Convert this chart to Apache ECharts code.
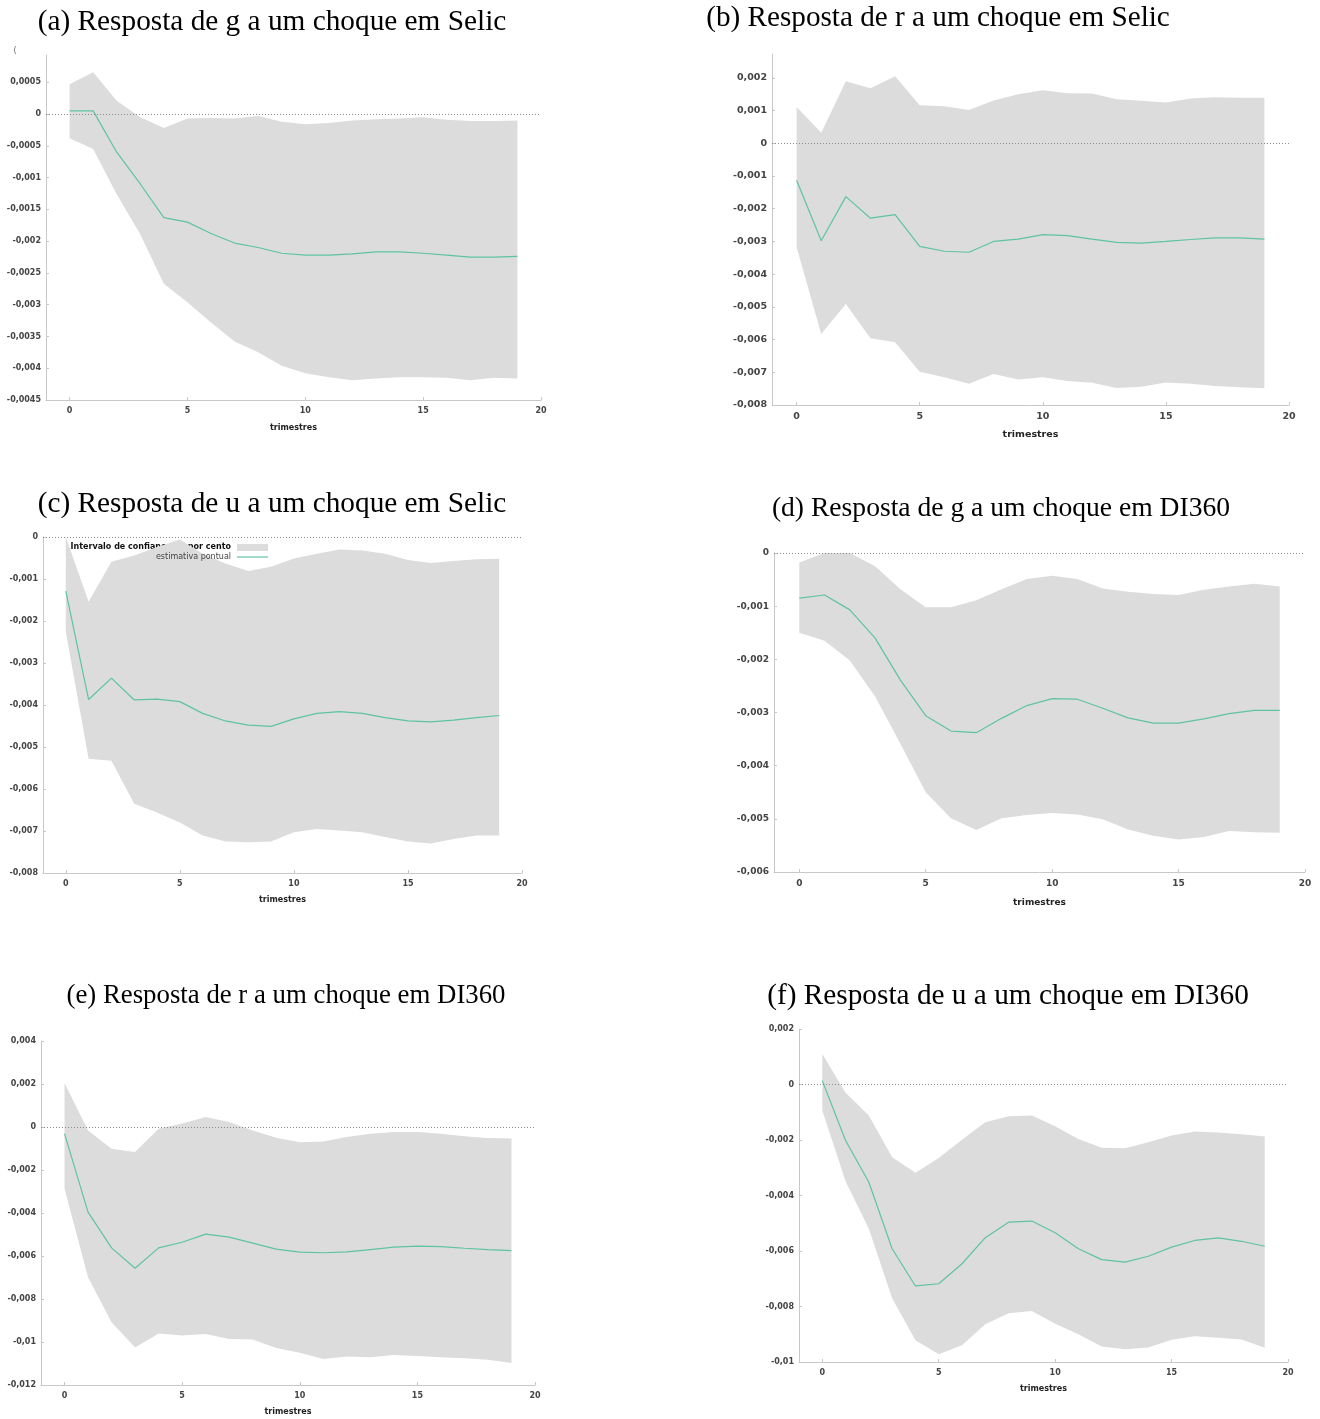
<!DOCTYPE html>
<html>
<head>
<meta charset="utf-8">
<script src="https://cdn.jsdelivr.net/npm/echarts@6/dist/echarts.min.js"></script>
<style>
html,body{margin:0;padding:0;background:#fff;}
#chart{width:1320px;height:1419px;}
</style>
</head>
<body>
<div id="chart"></div>
<script>
// Horizon (trimestres)
const horizon = [0,1,2,3,4,5,6,7,8,9,10,11,12,13,14,15,16,17,18,19];
const xTicks = [0,5,10,15,20];

const titles = [
  '(a) Resposta de g a um choque em Selic',
  '(b) Resposta de r a um choque em Selic',
  '(c) Resposta de u a um choque em Selic',
  '(d) Resposta de g a um choque em DI360',
  '(e) Resposta de r a um choque em DI360',
  '(f) Resposta de u a um choque em DI360'
];
const xName = 'trimestres';
const legendBand = 'Intervalo de confiança 95 por cento';
const legendLine = 'estimativa pontual';

// (a) g <- Selic
const aLine  = [0.00005,0.00005,-0.0006,-0.0011,-0.00163,-0.0017,-0.00188,-0.00203,-0.0021,-0.00219,-0.00222,-0.00222,-0.0022,-0.00217,-0.00217,-0.00219,-0.00222,-0.00225,-0.00225,-0.00224];
const aUpper = [0.00047,0.00066,0.00021,-0.00005,-0.00022,-0.00007,-0.00006,-0.00007,-0.00003,-0.00012,-0.00016,-0.00014,-0.0001,-0.00008,-0.00007,-0.00005,-0.00009,-0.00011,-0.00011,-0.0001];
const aLower = [-0.00038,-0.00055,-0.00126,-0.00189,-0.00267,-0.00296,-0.00328,-0.00358,-0.00375,-0.00396,-0.00408,-0.00414,-0.00419,-0.00416,-0.00414,-0.00414,-0.00415,-0.00419,-0.00415,-0.00416];
const aYTicks = [0.0005,0,-0.0005,-0.001,-0.0015,-0.002,-0.0025,-0.003,-0.0035,-0.004,-0.0045];

// (b) r <- Selic
const bLine  = [-0.00113,-0.00298,-0.00163,-0.00229,-0.00218,-0.00315,-0.0033,-0.00333,-0.003,-0.00293,-0.00279,-0.00282,-0.00293,-0.00303,-0.00305,-0.003,-0.00294,-0.00289,-0.00289,-0.00293];
const bUpper = [0.00111,0.00032,0.0019,0.00168,0.00205,0.00116,0.00113,0.00102,0.00131,0.0015,0.00162,0.00153,0.00152,0.00135,0.0013,0.00125,0.00137,0.00141,0.00139,0.00139];
const bLower = [-0.00318,-0.00583,-0.00491,-0.00596,-0.00608,-0.00698,-0.00715,-0.00735,-0.00705,-0.00722,-0.00715,-0.00727,-0.00732,-0.00748,-0.00744,-0.00731,-0.00735,-0.00742,-0.00746,-0.00749];
const bYTicks = [0.002,0.001,0,-0.001,-0.002,-0.003,-0.004,-0.005,-0.006,-0.007,-0.008];

// (c) u <- Selic
const cLine  = [-0.00129,-0.00387,-0.00336,-0.00388,-0.00386,-0.00392,-0.0042,-0.00438,-0.00448,-0.00451,-0.00433,-0.0042,-0.00416,-0.0042,-0.0043,-0.00438,-0.0044,-0.00436,-0.0043,-0.00425];
const cUpper = [0,-0.00154,-0.00059,-0.00044,-0.00024,-0.00006,-0.0004,-0.00063,-0.00081,-0.00071,-0.00051,-0.0004,-0.0003,-0.00032,-0.0004,-0.00055,-0.00062,-0.00057,-0.00053,-0.00052];
const cLower = [-0.00226,-0.00528,-0.00533,-0.00635,-0.00656,-0.0068,-0.00711,-0.00725,-0.00727,-0.00725,-0.00703,-0.00695,-0.00699,-0.00703,-0.00714,-0.00725,-0.0073,-0.00719,-0.00711,-0.00711];
const cYTicks = [0,-0.001,-0.002,-0.003,-0.004,-0.005,-0.006,-0.007,-0.008];

// (d) g <- DI360
const dLine  = [-0.00085,-0.00079,-0.00107,-0.0016,-0.00239,-0.00306,-0.00335,-0.00338,-0.00311,-0.00287,-0.00274,-0.00275,-0.00292,-0.0031,-0.0032,-0.0032,-0.00312,-0.00302,-0.00296,-0.00296];
const dUpper = [-0.00018,0,0,-0.00025,-0.00068,-0.00102,-0.00102,-0.00089,-0.00068,-0.00049,-0.00043,-0.00049,-0.00067,-0.00073,-0.00077,-0.00079,-0.00069,-0.00063,-0.00058,-0.00063];
const dLower = [-0.0015,-0.00165,-0.00202,-0.0027,-0.00359,-0.0045,-0.00499,-0.00521,-0.00499,-0.00493,-0.00489,-0.00492,-0.00501,-0.0052,-0.00532,-0.00539,-0.00534,-0.00523,-0.00525,-0.00526];
const dYTicks = [0,-0.001,-0.002,-0.003,-0.004,-0.005,-0.006];

// (e) r <- DI360
const eLine  = [-0.00031,-0.00396,-0.00562,-0.00657,-0.00562,-0.00536,-0.00498,-0.00512,-0.0054,-0.00568,-0.00582,-0.00585,-0.00581,-0.0057,-0.00559,-0.00554,-0.00556,-0.00564,-0.0057,-0.00575];
const eUpper = [0.00205,-0.00016,-0.00101,-0.00116,-0.00008,0.00016,0.00047,0.00023,-0.00016,-0.0005,-0.00071,-0.00068,-0.00047,-0.00031,-0.00023,-0.00023,-0.00031,-0.00043,-0.00051,-0.00054];
const eLower = [-0.00287,-0.00699,-0.00908,-0.01025,-0.0096,-0.0097,-0.00963,-0.00986,-0.00988,-0.01028,-0.0105,-0.01079,-0.01067,-0.01071,-0.0106,-0.01065,-0.01071,-0.01075,-0.01082,-0.01098];
const eYTicks = [0.004,0.002,0,-0.002,-0.004,-0.006,-0.008,-0.01,-0.012];

// (f) u <- DI360
const fLine  = [0.00014,-0.00202,-0.00352,-0.00592,-0.00726,-0.00718,-0.00646,-0.00552,-0.00496,-0.00492,-0.00534,-0.00592,-0.00631,-0.0064,-0.00619,-0.00586,-0.00562,-0.00553,-0.00565,-0.00583];
const fUpper = [0.0011,-0.0003,-0.00112,-0.00262,-0.00318,-0.00265,-0.00199,-0.00136,-0.00114,-0.00112,-0.0015,-0.00196,-0.00228,-0.0023,-0.00208,-0.00184,-0.00169,-0.00173,-0.00179,-0.00187];
const fLower = [-0.00094,-0.00349,-0.0052,-0.0077,-0.00922,-0.00972,-0.0094,-0.00864,-0.00824,-0.00816,-0.00862,-0.009,-0.00944,-0.00954,-0.00948,-0.0092,-0.00907,-0.00913,-0.00919,-0.00949];
const fYTicks = [0.002,0,-0.002,-0.004,-0.006,-0.008,-0.01];

// ---- layout / styling (kept apart from the data) ----
const panels = [
  {line:aLine, up:aUpper, lo:aLower, ticks:aYTicks, yMin:-0.0045, yMax:0.00093, grid:{left:46, top:55, width:495, height:345}, fs:8, labY:7, nameGap:24, title:{x:272,y:22,fs:29.3}},
  {line:bLine, up:bUpper, lo:bLower, ticks:bYTicks, yMin:-0.008, yMax:0.00273, grid:{left:772, top:54, width:517, height:351}, fs:9.5, labY:7, nameGap:25, title:{x:938,y:18,fs:29.2}},
  {line:cLine, up:cUpper, lo:cLower, ticks:cYTicks, yMin:-0.008, yMax:0, grid:{left:43, top:537, width:479, height:336}, fs:8, labY:7, nameGap:23, title:{x:272,y:504,fs:29.3}},
  {line:dLine, up:dUpper, lo:dLower, ticks:dYTicks, yMin:-0.006, yMax:0, grid:{left:774, top:553, width:531, height:319}, fs:9, labY:7, nameGap:26, title:{x:1001,y:509,fs:27.6}},
  {line:eLine, up:eUpper, lo:eLower, ticks:eYTicks, yMin:-0.012, yMax:0.004, grid:{left:41, top:1041, width:494, height:344}, fs:8, labY:7, nameGap:23, title:{x:286,y:996,fs:26.8}},
  {line:fLine, up:fUpper, lo:fLower, ticks:fYTicks, yMin:-0.01, yMax:0.002, grid:{left:799, top:1029, width:489, height:333}, fs:8, labY:7, nameGap:23, title:{x:1008,y:996,fs:29.3}}
];

const AXIS_COLOR = '#c8c8c8';
const LABEL_COLOR = '#444';
const BAND_COLOR = '#dcdcdc';
const LINE_COLOR = '#5ec4a0';
const FONT = '"DejaVu Sans", Verdana, sans-serif';

function fmt(v) {
  if (Math.abs(v) < 1e-12) return '0';
  return parseFloat(v.toPrecision(4)).toString().replace('.', ',');
}

const grids = [], xAxes = [], yAxes = [], series = [];
panels.forEach((p, k) => {
  grids.push(Object.assign({containLabel:false}, p.grid));
  xAxes.push({
    type:'value', gridIndex:k, min:-1, max:20,
    name:xName, nameLocation:'middle', nameGap:p.nameGap,
    nameTextStyle:{fontFamily:FONT, fontSize:p.fs, fontWeight:'bold', color:'#222'},
    axisLine:{show:true, onZero:false, lineStyle:{color:AXIS_COLOR, width:1}},
    axisTick:{show:true, inside:true, length:3, customValues:xTicks, lineStyle:{color:AXIS_COLOR}},
    axisLabel:{customValues:xTicks, margin:p.labY, fontFamily:FONT, fontSize:p.fs, fontWeight:'bold', color:LABEL_COLOR, formatter:fmt},
    splitLine:{show:false}
  });
  yAxes.push({
    type:'value', gridIndex:k, min:p.yMin, max:p.yMax,
    axisLine:{show:true, onZero:false, lineStyle:{color:AXIS_COLOR, width:1}},
    axisTick:{show:true, inside:true, length:3, customValues:p.ticks, lineStyle:{color:AXIS_COLOR}},
    axisLabel:{customValues:p.ticks, margin:5, fontFamily:FONT, fontSize:p.fs, fontWeight:'bold', color:LABEL_COLOR, formatter:fmt},
    splitLine:{show:false}
  });
  const up = p.up, lo = p.lo;
  series.push({
    type:'custom', xAxisIndex:k, yAxisIndex:k, z:2, silent:true, clip:false,
    data: horizon.map((h,i)=>[h, up[i], lo[i]]),
    encode:{x:0, y:[1,2]},
    renderItem:function(params, api){
      if (params.dataIndex !== 0) return null;
      const pts = [];
      for (let i=0;i<horizon.length;i++) pts.push(api.coord([horizon[i], up[i]]));
      for (let i=horizon.length-1;i>=0;i--) pts.push(api.coord([horizon[i], lo[i]]));
      return {type:'polygon', shape:{points:pts}, style:{fill:BAND_COLOR}};
    }
  });
  series.push({
    type:'line', xAxisIndex:k, yAxisIndex:k, z:4, silent:true,
    data: horizon.map((h,i)=>[h, p.line[i]]),
    symbol:'none', lineStyle:{color:LINE_COLOR, width:1.2},
    markLine:{
      silent:true, symbol:['none','none'], animation:false,
      label:{show:false},
      lineStyle:{color:'#8a8a8a', type:[1,2], width:1},
      data:[{yAxis:0}]
    }
  });
});

const graphics = panels.map((p,k)=>({
  type:'text', x:p.title.x, y:p.title.y, z:10,
  style:{text:titles[k], x:0, y:0, textAlign:'center', textVerticalAlign:'middle',
    font:p.title.fs + 'px "Liberation Serif", "Times New Roman", serif', fill:'#000'}
}));
// stray glyph at the top of panel (a)
graphics.push({type:'text', x:15, y:51, z:10, style:{text:'(', font:'8px "DejaVu Sans"', fill:'#666', textAlign:'center', textVerticalAlign:'middle'}});
// legend of panel (c)
graphics.push({type:'text', x:231, y:547, z:0, style:{text:legendBand, font:'bold 8px "DejaVu Sans"', fill:'#111', textAlign:'right', textVerticalAlign:'middle'}});
graphics.push({type:'rect', x:0, y:0, z:10, shape:{x:237, y:544, width:31, height:7}, style:{fill:BAND_COLOR}});
graphics.push({type:'text', x:231, y:557, z:10, style:{text:legendLine, font:'8px "DejaVu Sans"', fill:'#444', textAlign:'right', textVerticalAlign:'middle'}});
graphics.push({type:'line', x:0, y:0, z:10, shape:{x1:237, y1:557, x2:268, y2:557}, style:{stroke:LINE_COLOR, lineWidth:1.2}});

const chart = echarts.init(document.getElementById('chart'), null, {renderer:'canvas'});
chart.setOption({
  animation:false,
  backgroundColor:'#fff',
  grid:grids, xAxis:xAxes, yAxis:yAxes, series:series,
  graphic:{elements:graphics}
});
</script>
</body>
</html>
